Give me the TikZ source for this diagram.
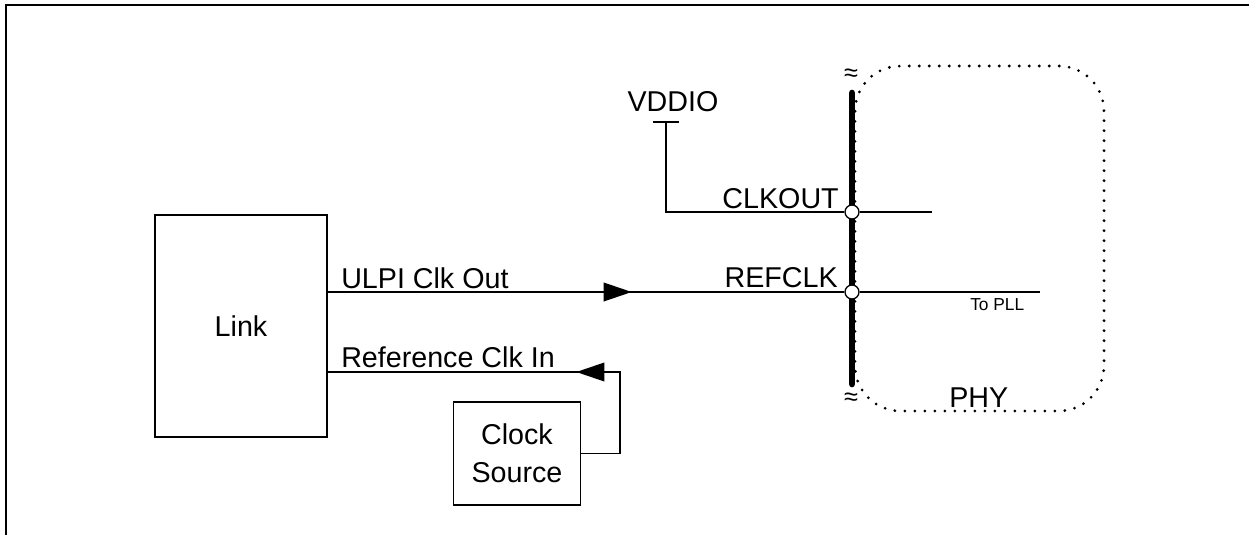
\documentclass[tikz,border=0pt]{standalone}
\usepackage{fontspec}
\setmainfont{Liberation Sans}
\usetikzlibrary{arrows.meta,decorations.markings}
\tikzset{blk/.style={draw,line width=1pt,inner sep=0pt}}
\tikzset{sig/.style={draw,line width=1.1pt}}
\tikzset{busline/.style={draw,line width=5pt,line cap=round}}
\tikzset{pad/.style={draw,circle,fill=white,line width=1pt,inner sep=0pt,minimum size=10.5pt}}
\tikzset{txt/.style={inner sep=0pt}}
\tikzset{small/.style={inner sep=0pt,font=\fontsize{13}{15}\selectfont}}
\tikzset{brk/.style={inner sep=0pt,font=\fontsize{19}{20}\selectfont}}
\tikzset{border/.style={draw,line width=1.6pt}}
\tikzset{phyedge/.style={draw,line width=2.3pt,line cap=round,dash pattern=on 0pt off 7.5pt,rounded corners=34pt}}
\tikzset{midarrow/.style={postaction={decorate},decoration={markings,
  mark=at position #1 with {\arrow{Triangle[length=21pt,width=14pt]}}}}}

\begin{document}
\begin{tikzpicture}[x=0.75pt,y=-0.75pt,font=\fontsize{21.5}{28.5}\selectfont]
    \useasboundingbox (0,0) rectangle (1249,535);
    \draw[border] (6,535) -- (6,5) -- (1249,5);

    % PHY side
    \draw[phyedge] (855,66) rectangle (1104,411);
    \coordinate (bustop) at (852,93);
    \coordinate (busbot) at (852,384);
    \draw[busline] (bustop) -- (busbot);
    \node[brk] (brktop) at (851,75) {≈};
    \node[brk] (brkbot) at (851,399) {≈};
    \node[pad] (clkout) at (852,212) {};
    \node[pad] (refclk) at (852,292) {};
    \node[txt,anchor=base west] (phy) at (949,407) {PHY};

    % blocks
    \node[blk,minimum width=129pt,minimum height=166.5pt] (link) at (241,326) {Link};
    \node[blk,minimum width=95.25pt,minimum height=77.25pt,align=center] (clksrc) at (517,453.5) {Clock\\Source};

    % CLKOUT tied to VDDIO
    \coordinate (vdd) at (666,122);
    \coordinate (clkend) at (932,212);
    \draw[sig] ([xshift=-10pt]vdd) -- ([xshift=10pt]vdd);
    \draw[sig] (vdd) -- (vdd |- clkout) -- (clkout);
    \draw[sig] (clkout) -- (clkend);
    \node[txt,anchor=base] (vddio) at (673,112) {VDDIO};
    \node[txt,anchor=base east] (clkoutl) at (839,208) {CLKOUT};

    % REFCLK
    \coordinate (pll) at (1040,292);
    \draw[sig,midarrow=228pt] (link.east |- refclk) -- (refclk);
    \draw[sig] (refclk) -- (pll);
    \node[txt,anchor=base east] (refclkl) at (838,287) {REFCLK};
    \node[small,anchor=base west] (topll) at (970,310) {To PLL};
    \node[txt,anchor=base west] (ulpi) at (341,288) {ULPI Clk Out};

    % reference clock
    \coordinate (turn) at (620,372);
    \draw[sig,midarrow=123pt] (clksrc.east) -- (clksrc.east -| turn) -- (turn) -- (link.east |- turn);
    \node[txt,anchor=base west] (refin) at (341,367) {Reference Clk In};
\end{tikzpicture}
\end{document}
